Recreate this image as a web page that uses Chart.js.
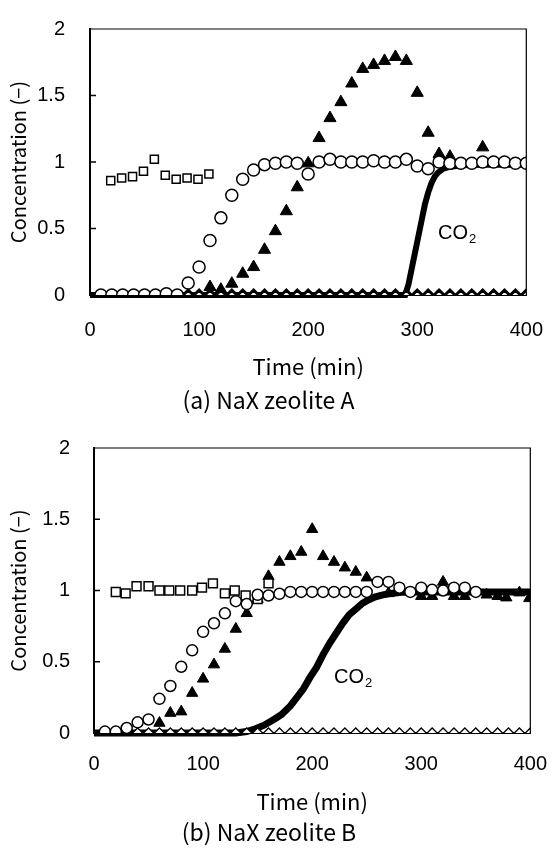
<!DOCTYPE html>
<html>
<head>
<meta charset="utf-8">
<script src="https://cdn.jsdelivr.net/npm/chart.js@4.4.0/dist/chart.umd.min.js"></script>
<style>
  body { margin: 0; background: #fff; }
  .panel { position: absolute; left: 0; width: 558px; }
  #panelA { top: 0; height: 420px; }
  #panelB { top: 420px; height: 436px; }
</style>
</head>
<body>
<div class="panel" id="panelA"><canvas id="chartA"></canvas></div>
<div class="panel" id="panelB"><canvas id="chartB"></canvas></div>
<script>
// ---- (a) NaX zeolite A ----
const sqA_t = [19, 29, 39, 49, 59, 69, 79, 89, 99, 109];
const sqA_v = [0.86, 0.88, 0.89, 0.93, 1.02, 0.90, 0.87, 0.88, 0.87, 0.91];

const ciA_t = [10, 20, 30, 40, 50, 60, 70, 80, 90, 100, 110, 120, 130, 140, 150, 160, 170, 180, 190, 200,
               210, 220, 230, 240, 250, 260, 270, 280, 290, 300, 310, 320, 330, 340, 350, 360, 370, 380, 390, 400];
const ciA_v = [0, 0, 0, 0, 0, 0, 0.01, 0, 0.09, 0.21, 0.41, 0.58, 0.75, 0.87, 0.94, 0.98, 0.99, 1.0, 0.99, 0.91,
               1.0, 1.02, 1.0, 1.0, 1.0, 1.01, 1.0, 1.0, 1.02, 0.97, 0.95, 1.0, 0.99, 0.99, 0.99, 1.0, 1.0, 1.0, 0.99, 0.99];

const trA_t = [110, 120, 130, 140, 150, 160, 170, 180, 190, 200, 210, 220, 230, 240, 250, 260, 270, 280, 290, 300, 310, 320, 330, 360];
const trA_v = [0.06, 0.04, 0.085, 0.16, 0.21, 0.34, 0.48, 0.63, 0.81, 0.99, 1.18, 1.33, 1.45, 1.59, 1.70, 1.73, 1.76, 1.79, 1.76, 1.52, 1.22, 1.06, 1.04, 1.11];

const diA_t = [90, 100, 110, 120, 130, 140, 150, 160, 170, 180, 190, 200, 210, 220, 230, 240, 250, 260, 270, 280,
               290, 300, 310, 320, 330, 340, 350, 360, 370, 380, 390, 400];
const diA_v = diA_t.map(() => 0);

const co2A_t = [0, 289, 292, 295, 298, 301, 304, 307, 310, 313, 316, 319, 324, 328, 340, 360, 400];
const co2A_v = [0, 0, 0.08, 0.2, 0.32, 0.44, 0.56, 0.68, 0.77, 0.84, 0.89, 0.92, 0.95, 0.96, 0.975, 0.98, 0.98];

// ---- (b) NaX zeolite B ----
const sqB_t = [20, 29, 39, 50, 60, 69, 79, 90, 99, 109, 120, 129, 139, 150, 160];
const sqB_v = [0.99, 0.98, 1.03, 1.03, 1.0, 1.0, 1.0, 1.0, 1.02, 1.05, 0.98, 1.0, 0.965, 0.94, 1.05];

const ciB_t = [10, 20, 30, 40, 50, 60, 70, 80, 90, 100, 110, 120, 130, 140, 150, 160, 170, 180,
               190, 200, 210, 220, 230, 240, 250, 260, 270, 280, 290, 300, 310, 320, 330, 340, 350];
const ciB_v = [0.01, 0.01, 0.035, 0.075, 0.095, 0.24, 0.33, 0.465, 0.58, 0.71, 0.77, 0.84, 0.925, 0.905, 0.97, 0.965, 0.977, 0.99,
               0.99, 0.99, 0.99, 0.99, 0.99, 0.99, 0.99, 1.06, 1.06, 1.02, 0.99, 1.02, 1.005, 1.0, 1.02, 1.02, 0.99];

const trB_t = [60, 70, 80, 90, 100, 110, 120, 130, 140, 150, 160, 170, 180, 190, 200, 210, 220, 230, 240, 250,
               270, 300, 310, 320, 330, 340, 360, 370, 378, 390, 399];
const trB_v = [0.07, 0.14, 0.15, 0.28, 0.38, 0.48, 0.59, 0.73, 0.84, 0.94, 1.10, 1.20, 1.24, 1.27, 1.43, 1.24, 1.20, 1.16, 1.13, 1.09,
               0.98, 0.96, 0.96, 1.06, 0.96, 0.96, 0.97, 0.96, 0.95, 0.985, 0.945];

const diB_t = [30, 40, 50, 60, 70, 80, 90, 100, 110, 120, 130, 140, 150, 160, 170, 180, 190, 200, 210, 220,
               230, 240, 250, 260, 270, 280, 290, 300, 310, 320, 330, 340, 350, 360, 370, 380, 390, 400];
const diB_v = diB_t.map(() => 0);

const co2B_t = [0, 130, 140, 148, 156, 166, 172, 180, 186, 192, 198, 204, 210, 216, 222, 228, 234, 240, 246, 252, 258, 264, 270, 282, 300, 350, 400];
const co2B_v = [0, 0, 0.01, 0.03, 0.055, 0.1, 0.13, 0.19, 0.25, 0.31, 0.39, 0.46, 0.55, 0.63, 0.7, 0.77, 0.83, 0.87, 0.91, 0.935, 0.955, 0.967, 0.977, 0.988, 0.99, 0.99, 0.99];

const xTicks = [0, 100, 200, 300, 400];
const yTicks = [0, 0.5, 1, 1.5, 2];

const CJK = "'Noto Sans CJK JP', 'Noto Sans', sans-serif";
const LAT = "'Liberation Sans', Arial, sans-serif";

function pts(t, v) {
  return t.map((x, i) => ({ x: x, y: v[i] }));
}

// box, inward y ticks and the CO2 label
const framePlugin = {
  id: 'frame',
  afterDatasetsDraw(chart, args, opts) {
    const { ctx, chartArea: a, scales } = chart;
    ctx.save();
    ctx.strokeStyle = '#000';
    ctx.lineWidth = 1.2;
    ctx.beginPath();
    ctx.moveTo(a.left, a.top);
    ctx.lineTo(a.right, a.top);
    ctx.lineTo(a.right, a.bottom);
    ctx.stroke();
    ctx.lineWidth = 1.5;
    yTicks.forEach(v => {
      if (v === 0 || v === 2) return;
      const y = scales.y.getPixelForValue(v);
      ctx.beginPath();
      ctx.moveTo(a.left, y);
      ctx.lineTo(a.left + 6, y);
      ctx.stroke();
    });
    const lx = scales.x.getPixelForValue(opts.at[0]);
    const ly = scales.y.getPixelForValue(opts.at[1]);
    ctx.fillStyle = '#000';
    ctx.textBaseline = 'middle';
    ctx.textAlign = 'left';
    ctx.font = '20px ' + LAT;
    ctx.fillText('CO', lx, ly);
    const w = ctx.measureText('CO').width;
    ctx.font = '13px ' + LAT;
    ctx.fillText('2', lx + w + 1, ly + 6);
    ctx.restore();
  }
};

function makeChart(id, d, c) {
  const tickFont = { family: LAT, size: 20 };
  return new Chart(document.getElementById(id), {
    type: 'scatter',
    data: {
      datasets: [
        { data: pts(d.ci[0], d.ci[1]), pointStyle: 'circle', pointRadius: c.ciR, borderColor: '#000', backgroundColor: '#fff', borderWidth: 1.5 },
        { data: pts(d.sq[0], d.sq[1]), pointStyle: 'rect', pointRadius: c.sqR, borderColor: '#000', backgroundColor: '#fff', borderWidth: 1.5 },
        { data: pts(d.di[0], d.di[1]), pointStyle: 'rectRot', pointRadius: c.diR, borderColor: '#000', backgroundColor: '#fff', borderWidth: c.diW },
        { data: pts(d.co2[0], d.co2[1]), showLine: true, pointRadius: 0, borderColor: '#000', borderWidth: c.co2W, tension: 0, clip: 8 },
        { data: pts(d.tr[0], d.tr[1]), pointStyle: 'triangle', pointRadius: c.trR, borderColor: '#000', backgroundColor: '#000', borderWidth: 1 }
      ]
    },
    options: {
      responsive: true,
      maintainAspectRatio: false,
      animation: false,
      events: [],
      layout: { padding: { top: c.padTop, right: c.padRight, left: 0, bottom: 0 } },
      plugins: {
        legend: { display: false },
        tooltip: { enabled: false },
        title: {
          display: true, position: 'bottom', text: c.caption, color: '#000',
          font: { family: CJK, size: 23, weight: 400, lineHeight: 1.2 },
          padding: { top: c.capTop, bottom: c.capBottom }
        },
        frame: { at: c.co2At }
      },
      scales: {
        x: {
          type: 'linear', min: 0, max: 400,
          afterBuildTicks: s => { s.ticks = xTicks.map(v => ({ value: v })); },
          ticks: { font: tickFont, color: '#000', padding: c.xPad, maxRotation: 0, callback: v => String(v) },
          grid: { display: false },
          border: { display: true, color: '#000', width: 2 },
          title: { display: true, text: 'Time (min)', color: '#000', font: { family: CJK, size: 22, weight: 400, lineHeight: 1.2 }, padding: { top: 0, bottom: c.xTitleBottom } },
          afterFit: s => { s.height = c.xHeight; }
        },
        y: {
          type: 'linear', min: 0, max: 2,
          afterBuildTicks: s => { s.ticks = yTicks.map(v => ({ value: v })); },
          ticks: { font: tickFont, color: '#000', padding: c.yPad, callback: v => String(v) },
          grid: { display: false },
          border: { display: true, color: '#000', width: 2 },
          title: { display: true, text: 'Concentration (−)', color: '#000', font: { family: CJK, size: 20, weight: 400, lineHeight: 1.2 }, padding: { top: 6, bottom: 0 } },
          afterFit: s => { s.width = c.yWidth; }
        }
      }
    },
    plugins: [framePlugin]
  });
}

makeChart('chartA',
  { ci: [ciA_t, ciA_v], sq: [sqA_t, sqA_v], di: [diA_t, diA_v], co2: [co2A_t, co2A_v], tr: [trA_t, trA_v] },
  { ciR: 6, sqR: 5.7, diR: 5, diW: 3, trR: 7, co2W: 6,
    padTop: 13, padRight: 21, yWidth: 90, xHeight: 90, xPad: 15, xTitleBottom: 5.5, yPad: 17,
    caption: '(a) NaX zeolite A', capTop: 1.2, capBottom: 6.2, co2At: [319, 0.46] });

makeChart('chartB',
  { ci: [ciB_t, ciB_v], sq: [sqB_t, sqB_v], di: [diB_t, diB_v], co2: [co2B_t, co2B_v], tr: [trB_t, trB_v] },
  { ciR: 5.5, sqR: 6.3, diR: 5, diW: 1.3, trR: 6.5, co2W: 7,
    padTop: 26, padRight: 20, yWidth: 94, xHeight: 85, xPad: 11, xTitleBottom: 3.5, yPad: 16,
    caption: '(b) NaX zeolite B', capTop: 0.2, capBottom: 10.2, co2At: [220, 0.39] });
</script>
</body>
</html>
